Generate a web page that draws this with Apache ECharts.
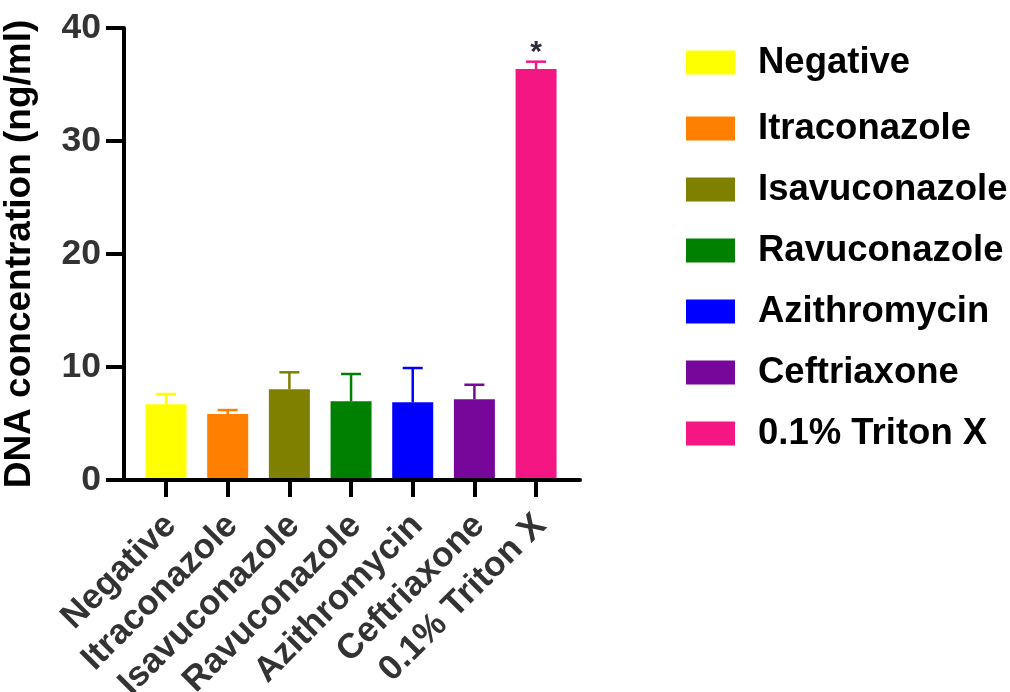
<!DOCTYPE html>
<html>
<head>
<meta charset="utf-8">
<script src="https://cdn.jsdelivr.net/npm/echarts@6/dist/echarts.min.js"></script>
<style>
  html, body { margin: 0; padding: 0; background: #ffffff; }
  #chart { width: 1010px; height: 692px; }
</style>
</head>
<body>
<div id="chart"></div>
<script>
// Groups and measured DNA release (mean and mean + SD)
const categories = ['Negative', 'Itraconazole', 'Isavuconazole', 'Ravuconazole', 'Azithromycin', 'Ceftriaxone', '0.1% Triton X'];
const means = [6.70, 5.84, 8.03, 6.96, 6.88, 7.14, 36.37];
const upperErrors = [7.61, 6.19, 9.53, 9.38, 9.91, 8.43, 37.02];
const significance = ['', '', '', '', '', '', '*'];
const colors = ['#FFFF00', '#FF8000', '#808000', '#008000', '#0000FF', '#77079A', '#F31683'];
const yTicks = [0, 10, 20, 30, 40];

const FONT = 'Liberation Sans, Arial, Helvetica, sans-serif';
const chart = echarts.init(document.getElementById('chart'), null, { renderer: 'canvas' });

const barSeries = categories.map((name, i) => ({
  name: name,
  type: 'bar',
  xAxisIndex: 1,
  yAxisIndex: 1,
  barWidth: 41,
  barGap: '-100%',
  itemStyle: { color: colors[i] },
  data: categories.map((c, j) => (j === i ? means[i] : '-')),
  z: 2
}));

const errorSeries = {
  type: 'custom',
  xAxisIndex: 1,
  yAxisIndex: 1,
  z: 3,
  data: categories.map((c, i) => [i, means[i], upperErrors[i]]),
  renderItem: function (params, api) {
    const i = params.dataIndex;
    const base = api.coord([api.value(0), api.value(1)]);
    const top = api.coord([api.value(0), api.value(2)]);
    const col = colors[i];
    const children = [
      { type: 'line', shape: { x1: base[0], y1: base[1], x2: top[0], y2: top[1] },
        style: { stroke: col, lineWidth: 2.5 } },
      { type: 'line', shape: { x1: top[0] - 10, y1: top[1], x2: top[0] + 10, y2: top[1] },
        style: { stroke: col, lineWidth: 2.5 } }
    ];
    if (significance[i]) {
      children.push({
        type: 'text',
        style: {
          text: significance[i], x: top[0], y: top[1] + 6,
          align: 'center', verticalAlign: 'bottom',
          font: 'bold 30px ' + FONT, fill: '#2b2b3a'
        }
      });
    }
    return { type: 'group', children: children };
  }
};

const legendText = { fontFamily: FONT, fontSize: 36.5, fontWeight: 'bold', color: '#000', padding: [0, 0, 0, 18] };

const option = {
  animation: false,
  backgroundColor: '#ffffff',
  grid: [
    { left: 124, right: 430, top: 28, bottom: 212, outerBoundsMode: 'none' },
    { left: 135.2, width: 431.7, top: 28, bottom: 212, outerBoundsMode: 'none' }
  ],
  legend: [
    {
      data: categories.slice(0, 1),
      orient: 'vertical', left: 681, top: 39,
      itemWidth: 49, itemHeight: 24, itemGap: 24,
      icon: 'rect', selectedMode: false,
      textStyle: legendText
    },
    {
      data: categories.slice(1),
      orient: 'vertical', left: 681, top: 105,
      itemWidth: 49, itemHeight: 24, itemGap: 24,
      icon: 'rect', selectedMode: false,
      textStyle: legendText
    }
  ],
  xAxis: [
    {
      gridIndex: 0, type: 'value', min: 0, max: 1, z: 10,
      axisLine: { show: true, lineStyle: { color: '#000', width: 4 } },
      axisTick: { show: false }, axisLabel: { show: false }, splitLine: { show: false }
    },
    {
      gridIndex: 1, type: 'category', data: categories, z: 10,
      axisLine: { show: false },
      axisTick: { show: true, alignWithLabel: true, length: 17, lineStyle: { color: '#000', width: 4 } },
      axisLabel: {
        interval: 0, rotate: 45, margin: 20, verticalAlign: 'top', padding: [0, 11, 0, 0],
        fontFamily: FONT, fontSize: 35, fontWeight: 'bold', color: '#333'
      },
      splitLine: { show: false }
    }
  ],
  yAxis: [
    {
      gridIndex: 0, type: 'value', min: yTicks[0], max: yTicks[yTicks.length - 1], interval: yTicks[1] - yTicks[0], z: 10,
      name: 'DNA concentration (ng/ml)', nameLocation: 'middle', nameRotate: 90, nameGap: 86,
      nameTextStyle: { fontFamily: FONT, fontSize: 37, fontWeight: 'bold', color: '#000' },
      axisLine: { show: true, lineStyle: { color: '#000', width: 4 } },
      axisTick: { show: true, length: 18, lineStyle: { color: '#000', width: 4 } },
      axisLabel: { margin: 23, fontFamily: FONT, fontSize: 35.5, fontWeight: 'bold', color: '#333' },
      splitLine: { show: false }
    },
    {
      gridIndex: 1, type: 'value', min: yTicks[0], max: yTicks[yTicks.length - 1], show: false,
      splitLine: { show: false }
    }
  ],
  series: barSeries.concat([errorSeries])
};

chart.setOption(option);
</script>
</body>
</html>
